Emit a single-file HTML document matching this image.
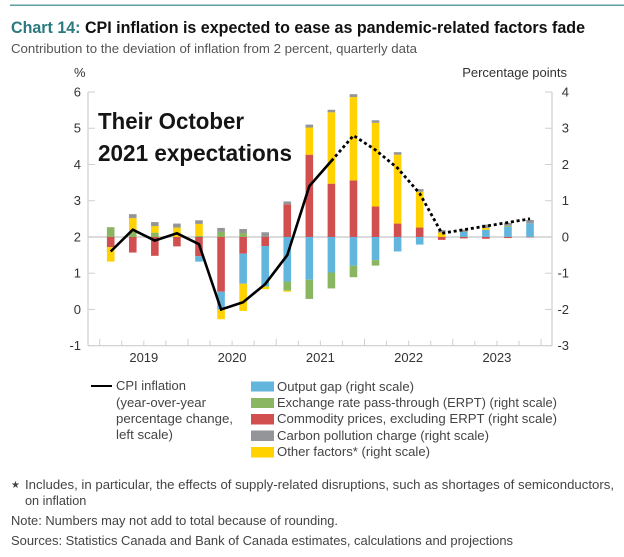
<!DOCTYPE html>
<html lang="en">
<head>
<meta charset="utf-8">
<title>CPI inflation chart</title>
<style>
html,body{margin:0;padding:0;background:#fff;width:624px;height:557px;overflow:hidden}
svg{display:block}
text{font-family:"Liberation Sans",Arial,sans-serif;fill:#444}
</style>
</head>
<body>
<svg id="chart" width="624" height="557" viewBox="0 0 624 557">
  <rect x="10" y="4.5" width="614" height="1.5" fill="#5f9ea0"/>
  <text x="11" y="33" font-size="17" font-weight="bold" textLength="574" lengthAdjust="spacingAndGlyphs"><tspan style="fill:#2a7a80">Chart 14:</tspan><tspan style="fill:#111"> CPI inflation is expected to ease as pandemic-related factors fade</tspan></text>
  <text x="11" y="53" font-size="13" textLength="406" lengthAdjust="spacingAndGlyphs" style="fill:#555">Contribution to the deviation of inflation from 2 percent, quarterly data</text>

  <text x="74" y="77" font-size="13" style="fill:#333">%</text>
  <text x="567" y="77" font-size="13" text-anchor="end" style="fill:#333">Percentage points</text>

  <g id="axes"></g>
  <g id="bars"></g>
  <g id="lines"></g>

  <text x="98" y="129" font-size="23" font-weight="bold" textLength="146" lengthAdjust="spacingAndGlyphs" style="fill:#151515">Their October</text>
  <text x="98" y="161" font-size="23" font-weight="bold" textLength="194" lengthAdjust="spacingAndGlyphs" style="fill:#151515">2021 expectations</text>

  <g font-size="13">
    <line x1="91" x2="112" y1="386" y2="386" stroke="#000" stroke-width="2"/>
    <text x="116" y="390" textLength="70" lengthAdjust="spacingAndGlyphs">CPI inflation</text>
    <text x="116" y="407" textLength="90" lengthAdjust="spacingAndGlyphs">(year-over-year</text>
    <text x="116" y="423" textLength="117" lengthAdjust="spacingAndGlyphs">percentage change,</text>
    <text x="116" y="439" textLength="57" lengthAdjust="spacingAndGlyphs">left scale)</text>
    <rect x="251" y="381.5" width="23" height="10" fill="#62b5dc"/>
    <text x="277" y="391" textLength="137" lengthAdjust="spacingAndGlyphs">Output gap (right scale)</text>
    <rect x="251" y="398" width="23" height="10" fill="#8ab661"/>
    <text x="277" y="407" textLength="280" lengthAdjust="spacingAndGlyphs">Exchange rate pass-through (ERPT) (right scale)</text>
    <rect x="251" y="414" width="23" height="10.5" fill="#d24f4f"/>
    <text x="277" y="423" textLength="280" lengthAdjust="spacingAndGlyphs">Commodity prices, excluding ERPT (right scale)</text>
    <rect x="251" y="430.5" width="23" height="10.5" fill="#939598"/>
    <text x="277" y="440" textLength="212" lengthAdjust="spacingAndGlyphs">Carbon pollution charge (right scale)</text>
    <rect x="251" y="447" width="23" height="10.5" fill="#ffd200"/>
    <text x="277" y="456" textLength="153" lengthAdjust="spacingAndGlyphs">Other factors* (right scale)</text>
  </g>

  <g font-size="12.7">
    <text x="11" y="488" font-size="10" style="font-family:'DejaVu Sans',sans-serif">★</text>
    <text x="25" y="489" textLength="589" lengthAdjust="spacingAndGlyphs">Includes, in particular, the effects of supply-related disruptions, such as shortages of semiconductors,</text>
    <text x="25" y="505">on inflation</text>
    <text x="11" y="525" textLength="327" lengthAdjust="spacingAndGlyphs">Note: Numbers may not add to total because of rounding.</text>
    <text x="11" y="545" textLength="502" lengthAdjust="spacingAndGlyphs">Sources: Statistics Canada and Bank of Canada estimates, calculations and projections</text>
  </g>
</svg>
<script>
const quarters = ["2019Q1","2019Q2","2019Q3","2019Q4","2020Q1","2020Q2","2020Q3","2020Q4","2021Q1","2021Q2","2021Q3","2021Q4","2022Q1","2022Q2","2022Q3","2022Q4","2023Q1","2023Q2","2023Q3","2023Q4"];
const yearLabels = ["2019","2020","2021","2022","2023"];
const leftTicks = [6,5,4,3,2,1,0,-1];
const rightTicks = [4,3,2,1,0,-1,-2,-3];
const outputGap = [0,0,0,0,-0.15,-0.49,-0.83,-1.12,-1.23,-1.18,-0.98,-0.79,-0.64,-0.4,-0.21,0,0.14,0.2,0.28,0.38];
const erpt = [0.27,0.14,0.12,0,0.03,0.14,0.11,0,-0.25,-0.53,-0.44,-0.32,-0.15,0,0,0,0,0,0.03,0];
const commodity = [-0.28,-0.43,-0.52,-0.26,-0.53,-1.51,-0.46,-0.25,0.9,2.27,1.47,1.56,0.84,0.37,0.26,-0.08,-0.04,-0.05,-0.03,-0.01];
const carbon = [0,0.11,0.11,0.11,0.1,0.11,0.11,0.13,0.08,0.08,0.07,0.08,0.07,0.07,0.07,0.07,0.06,0.09,0.08,0.09];
const other = [-0.4,0.38,0.18,0.26,0.33,-0.27,-0.75,-0.07,-0.03,0.75,1.97,2.3,2.31,1.9,0.99,0.12,0,0.05,0,0];
const cpi = [1.6,2.2,1.9,2.1,1.8,0,0.2,0.7,1.5,3.4,4.1,4.8,4.4,3.9,3.2,2.1,2.2,2.3,2.4,2.5];
const lastActualIndex = 10;

const NS = "http://www.w3.org/2000/svg";
const plotLeft = 88, plotRight = 552, plotTop = 92, plotBottom = 345.7;
const barWidth = 7.6;
const xScale = i => 110.7 + 22.07 * i;
const yLeft = v => plotTop + (6 - v) * (plotBottom - plotTop) / 7;
const yRight = v => plotTop + (4 - v) * (plotBottom - plotTop) / 7;
const axisColor = "#cfcfcf";

function make(tag, attrs, parent) {
  const el = document.createElementNS(NS, tag);
  for (const k in attrs) el.setAttribute(k, attrs[k]);
  parent.appendChild(el);
  return el;
}
const axes = document.getElementById("axes");
const barsGroup = document.getElementById("bars");
const linesGroup = document.getElementById("lines");

function axisLine(x1, y1, x2, y2, w) {
  const l = make("line", {x1, y1, x2, y2, stroke: axisColor, "stroke-width": w}, axes);
  
  
}
axisLine(plotLeft, plotTop, plotLeft, plotBottom, 1.2);
axisLine(plotRight, plotTop, plotRight, plotBottom, 1.2);
axisLine(plotLeft, plotBottom, plotRight, plotBottom, 1.2);
axisLine(plotLeft, yRight(0), plotRight, yRight(0), 1.5);

leftTicks.forEach(v => {
  axisLine(plotLeft, yLeft(v), plotLeft + 7, yLeft(v), 1);
  const t = make("text", {x: 81, y: yLeft(v) + 4.5, "font-size": 13, "text-anchor": "end", style: "fill:#333"}, axes);
  
  
  t.textContent = v;
});
rightTicks.forEach(v => {
  axisLine(plotRight - 7, yRight(v), plotRight, yRight(v), 1);
  const t = make("text", {x: 569, y: yRight(v) + 4.5, "font-size": 13, "text-anchor": "end", style: "fill:#333"}, axes);
  
  
  t.textContent = v;
});
for (let i = 0; i <= quarters.length; i++) {
  const major = i % 4 === 0;
  const x = xScale(i - 0.5);
  axisLine(x, plotBottom, x, plotBottom - (major ? 7 : 5), 1);
}
yearLabels.forEach((label, k) => {
  const t = make("text", {x: xScale(4 * k + 1.5), y: 362, "font-size": 13, "text-anchor": "middle", style: "fill:#333"}, axes);
  
  
  t.textContent = label;
});

const positiveOrder = [[outputGap,"#62b5dc"],[erpt,"#8ab661"],[commodity,"#d24f4f"],[other,"#ffd200"],[carbon,"#939598"]];
const negativeOrder = [[commodity,"#d24f4f"],[outputGap,"#62b5dc"],[erpt,"#8ab661"],[other,"#ffd200"],[carbon,"#939598"]];

quarters.forEach((q, i) => {
  let up = 0, down = 0;
  const draw = (from, to, fill) => {
    const r = make("rect", {
      x: xScale(i) - barWidth / 2,
      y: Math.min(yRight(from), yRight(to)),
      width: barWidth,
      height: Math.abs(yRight(from) - yRight(to)),
      fill
    }, barsGroup);
    
    
  };
  positiveOrder.forEach(([series, color]) => {
    if (series[i] > 0) { draw(up, up + series[i], color); up += series[i]; }
  });
  negativeOrder.forEach(([series, color]) => {
    if (series[i] < 0) { draw(down, down + series[i], color); down += series[i]; }
  });
});

const pts = cpi.map((v, i) => xScale(i).toFixed(1) + "," + yLeft(v).toFixed(1));
const solid = make("polyline", {points: pts.slice(0, lastActualIndex + 1).join(" "), fill: "none", stroke: "#000", "stroke-width": 2.6, "stroke-linejoin": "miter"}, linesGroup);


const dotted = make("polyline", {points: pts.slice(lastActualIndex).join(" "), fill: "none", stroke: "#000", "stroke-width": 2.8, "stroke-dasharray": "3 2.8"}, linesGroup);


</script>
</body>
</html>
